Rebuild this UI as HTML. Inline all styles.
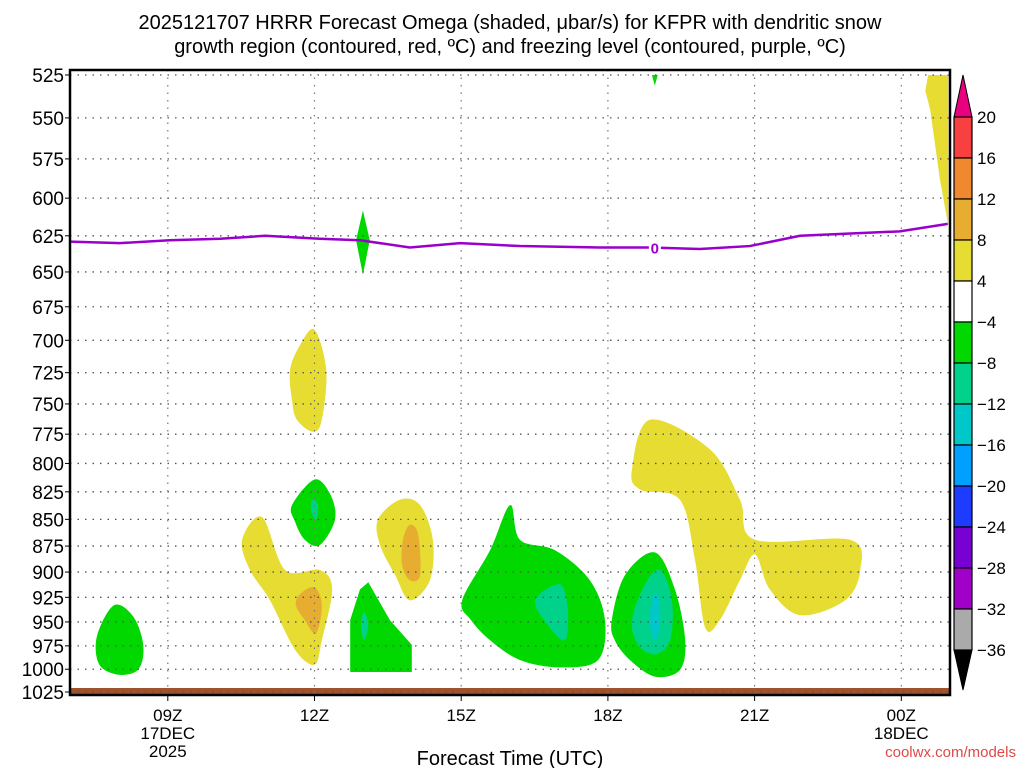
<!DOCTYPE html>
<html><head><meta charset="utf-8"><style>
html,body{margin:0;padding:0;background:#fff;}
svg{display:block;font-family:"Liberation Sans",sans-serif;}
</style></head><body>
<svg id="chart" width="1024" height="768" viewBox="0 0 1024 768">
<text x="510" y="29" font-size="20" text-anchor="middle">2025121707 HRRR Forecast Omega (shaded, μbar/s) for KFPR with dendritic snow</text>
<text x="510" y="53" font-size="20" text-anchor="middle">growth region (contoured, red, ºC) and freezing level (contoured, purple, ºC)</text>
<g id="plot"></g>
<g id="cbar"></g>
<text x="510" y="765" font-size="20" text-anchor="middle">Forecast Time (UTC)</text>
<text x="1016" y="757" font-size="15" fill="#e04848" text-anchor="end">coolwx.com/models</text>
</svg>
<script>
const NS="http://www.w3.org/2000/svg";
const pLevels=[525,550,575,600,625,650,675,700,725,750,775,800,825,850,875,900,925,950,975,1000,1025];
const xTickHours=[9,12,15,18,21,24];
const xTickLabels=["09Z\n17DEC\n2025","12Z","15Z","18Z","21Z","00Z\n18DEC"];
const cbLevels=[20,16,12,8,4,-4,-8,-12,-16,-20,-24,-28,-32,-36];
const cbColors=["#f84040","#f08830","#e6ad30","#e6dc32","#ffffff","#00d800","#00d28c","#00c8c8","#00a0ff","#1e3cff","#7800d2","#a000c8","#aaaaaa"];
const yellowA=[[11.5,723],[11.7,704],[12.0,692],[12.24,723],[12.15,763],[11.97,773],[11.64,763],[11.54,747]];
const yellowB=[[10.52,869],[10.93,848],[11.4,898],[12.11,898],[12.36,917],[12.15,969],[12.0,995],[11.6,979],[11.09,928],[10.68,898]];
const orangeB=[[11.7,922],[12.0,915],[12.15,933],[12.03,962],[11.8,948],[11.62,933]];
const yellowC=[[13.3,850],[13.75,832],[14.16,837],[14.42,869],[14.36,908],[13.95,928],[13.65,903],[13.34,874]];
const orangeC=[[13.81,869],[13.95,855],[14.12,864],[14.16,903],[13.95,908],[13.79,893]];
const yellowD=[[18.49,806],[18.86,763],[20.09,788],[20.7,832],[21.01,869],[22.95,869],[23.16,898],[22.85,928],[21.93,943],[21.31,917],[21.01,883],[20.7,908],[20.29,948],[19.99,956],[19.78,888],[19.47,832],[18.66,823]];
const yellowE=[[24.55,525],[24.96,525],[24.96,618],[24.79,588],[24.59,545],[24.49,534]];
const greenA=[[7.55,965],[7.9,933],[8.3,945],[8.5,975],[8.4,1000],[8.0,1006],[7.6,995]];
const greenB=[[11.54,837],[12.0,814],[12.32,827],[12.42,850],[12.11,874],[11.8,869],[11.6,852]];
const tealB=[[11.95,832],[12.07,837],[12.03,850],[11.93,842]];
const greenC=[[12.73,948],[12.93,917],[13.1,910],[13.54,948],[13.99,974],[13.99,1003],[12.73,1003]];
const tealC=[[13.01,940],[13.1,953],[13.01,969],[12.95,953]];
const greenSpike=[[12.99,608],[13.13,628],[12.99,652],[12.85,628]];
const greenTop=[[18.9,525],[19.02,525],[18.96,531]];
const greenD=[[15.02,928],[15.59,879],[16.0,837],[16.2,869],[16.92,879],[17.63,908],[17.94,948],[17.8,990],[17.02,998],[16.2,990],[15.59,969],[15.2,948]];
const tealD=[[16.51,928],[17.02,912],[17.18,938],[17.12,969],[16.77,953]];
const greenE=[[18.08,948],[18.35,903],[18.96,881],[19.37,917],[19.58,969],[19.47,1001],[18.96,1008],[18.45,990],[18.14,969]];
const tealE=[[18.49,948],[18.76,912],[19.07,898],[19.31,928],[19.27,969],[18.96,984],[18.62,974]];
const blueE=[[18.9,928],[19.02,922],[19.07,948],[18.98,969],[18.86,953]];
const regions=[["yellow-a","#e6dc32",yellowA,1],["yellow-b","#e6dc32",yellowB,1],["orange-b","#e6ad30",orangeB,1],["yellow-c","#e6dc32",yellowC,1],["orange-c","#e6ad30",orangeC,1],["yellow-d","#e6dc32",yellowD,1],["yellow-e","#e6dc32",yellowE,0],["green-a","#00d800",greenA,1],["green-b","#00d800",greenB,1],["teal-b","#00d28c",tealB,1],["green-c","#00d800",greenC,0],["teal-c","#00d28c",tealC,1],["green-spike","#00d800",greenSpike,0],["green-top","#00d800",greenTop,0],["green-d","#00d800",greenD,1],["teal-d","#00d28c",tealD,1],["green-e","#00d800",greenE,1],["teal-e","#00d28c",tealE,1],["blue-e","#00c8c8",blueE,1]];
const freezeHours=[7,8.02,9.04,10.07,10.99,12.11,12.93,13.95,14.98,16.2,17.84,18.86,19.88,20.9,21.93,23.97,24.95];
const freezeP=[629,630,628,627,625,627,628,633,630,632,633,633,634,632,625,622,617];

const X0=70,X1=950,Y0=75,Y1=692,H0=7,HPX=48.9;
const xS=h=>X0+(h-H0)*HPX;
const yS=p=>Y0+(Math.log(p/525)/Math.log(1025/525))*(Y1-Y0);
function mk(tag,at,par){const e=document.createElementNS(NS,tag);for(const k in at)e.setAttribute(k,at[k]);par.appendChild(e);return e;}
function smoothPath(pts){
  const n=pts.length;let d='M'+pts[0][0]+','+pts[0][1];
  for(let i=0;i<n;i++){
    const p0=pts[(i-1+n)%n],p1=pts[i],p2=pts[(i+1)%n],p3=pts[(i+2)%n];
    const c1=[p1[0]+(p2[0]-p0[0])/6,p1[1]+(p2[1]-p0[1])/6];
    const c2=[p2[0]-(p3[0]-p1[0])/6,p2[1]-(p3[1]-p1[1])/6];
    d+=' C'+c1+' '+c2+' '+p2[0]+','+p2[1];
  }
  return d+'Z';
}
const plot=document.getElementById('plot');
const clip=mk('clipPath',{id:'pc'},plot);mk('rect',{x:X0,y:70,width:X1-X0,height:625},clip);
const g=mk('g',{'clip-path':'url(#pc)'},plot);
regions.forEach(r=>{
  const pts=r[2].map(q=>[xS(q[0]),yS(q[1])]);
  let e;
  if(r[3]) e=mk('path',{d:smoothPath(pts),fill:r[1]},g);
  else e=mk('polygon',{points:pts.map(q=>q.join(',')).join(' '),fill:r[1]},g);
  
  
});
const terr=mk('rect',{x:X0,y:688,width:X1-X0,height:7,fill:'#a0522d'},g);


pLevels.forEach(p=>{
  const y=yS(p);
  const l=mk('line',{x1:X0,x2:X1,y1:y,y2:y,stroke:'#555','stroke-width':1.3,'stroke-dasharray':'1.5,6'},plot);
  
  
  mk('line',{x1:X0-5,x2:X0,y1:y,y2:y,stroke:'#000'},plot);
  const t=mk('text',{x:X0-6,y:y+7,'font-size':19,'text-anchor':'end'},plot);t.textContent=p;
  
  
});
xTickHours.forEach((h,i)=>{
  const x=xS(h);
  const l=mk('line',{x1:x,x2:x,y1:70,y2:695,stroke:'#777','stroke-width':1.2,'stroke-dasharray':'1.5,6'},plot);
  
  
  mk('line',{x1:x,x2:x,y1:695,y2:701,stroke:'#000'},plot);
  xTickLabels[i].split('\n').forEach((s,j)=>{
    const t=mk('text',{x:x,y:721+j*18,'font-size':17,'text-anchor':'middle'},plot);t.textContent=s;
    
    
  });
});
const fl=mk('polyline',{points:freezeHours.map((h,i)=>xS(h)+','+yS(freezeP[i])).join(' '),fill:'none',stroke:'#9900cc','stroke-width':2.5},plot);


mk('rect',{x:xS(18.96)-6,y:yS(633)-9,width:12,height:17,fill:'#fff'},plot);
const fz=mk('text',{x:xS(18.96),y:yS(633)+6,'font-size':15,'font-weight':'bold',fill:'#9900cc','text-anchor':'middle'},plot);fz.textContent='0';


mk('rect',{x:X0,y:70,width:X1-X0,height:625,fill:'none',stroke:'#000','stroke-width':2.5},plot);
const cb=document.getElementById('cbar');
const CX=954,CW=18,CT=117,CB=650,step=(CB-CT)/(cbLevels.length-1);
mk('polygon',{points:`${CX},${CT} ${CX+CW},${CT} ${CX+CW/2},75`,fill:'#e8007f',stroke:'#000'},cb);
cbColors.forEach((c,i)=>{
  const r=mk('rect',{x:CX,y:CT+i*step,width:CW,height:step,fill:c,stroke:'#000','stroke-width':1.2},cb);
  
  
});
mk('polygon',{points:`${CX},${CB} ${CX+CW},${CB} ${CX+CW/2},690`,fill:'#000',stroke:'#000'},cb);
cbLevels.forEach((v,i)=>{
  const t=mk('text',{x:CX+CW+5,y:CT+i*step+6,'font-size':17},cb);t.textContent=v<0?'\u2212'+(-v):v;
  
  
});
</script>
</body></html>
